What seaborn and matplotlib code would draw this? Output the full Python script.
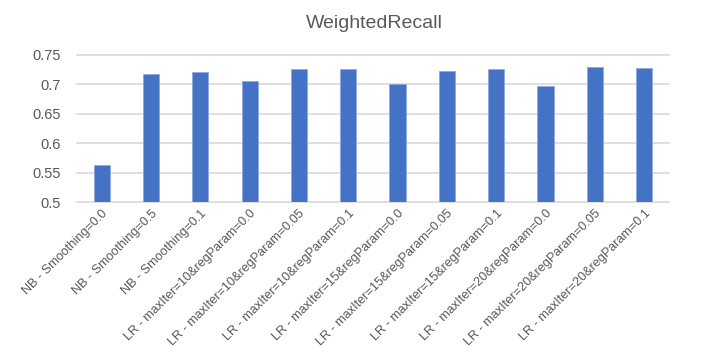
import matplotlib
matplotlib.use("Agg")
import matplotlib.pyplot as plt
import seaborn as sns
import pandas as pd
from matplotlib.ticker import FuncFormatter

# Model configurations and their weighted recall scores
models = [
    "NB - Smoothing=0.0",
    "NB - Smoothing=0.5",
    "NB - Smoothing=0.1",
    "LR - maxIter=10&regParam=0.0",
    "LR - maxIter=10&regParam=0.05",
    "LR - maxIter=10&regParam=0.1",
    "LR - maxIter=15&regParam=0.0",
    "LR - maxIter=15&regParam=0.05",
    "LR - maxIter=15&regParam=0.1",
    "LR - maxIter=20&regParam=0.0",
    "LR - maxIter=20&regParam=0.05",
    "LR - maxIter=20&regParam=0.1",
]
recall = [0.564, 0.717, 0.721, 0.705, 0.725, 0.725,
          0.701, 0.723, 0.725, 0.697, 0.729, 0.727]
y_ticks = [0.5, 0.55, 0.6, 0.65, 0.7, 0.75]

df = pd.DataFrame({"model": models, "recall": recall})

sns.set_theme(style="white")
plt.rcParams["font.family"] = ["Liberation Sans", "DejaVu Sans"]

text_color = "#595959"
grid_color = "#D9D9D9"
bar_color = "#4472C4"

fig = plt.figure(figsize=(7.07, 3.54), dpi=100)
ax = fig.add_axes([0.109, 0.4285, 0.837, 0.417])

sns.barplot(data=df, x="model", y="recall", color=bar_color, width=0.33,
            saturation=1, edgecolor="#8FAADC", linewidth=0.6, ax=ax, zorder=3)

ax.set_ylim(0.5, 0.75)
ax.set_xlim(-0.5, len(models) - 0.5)
ax.set_yticks(y_ticks)
ax.yaxis.set_major_formatter(FuncFormatter(lambda v, p: f"{v:g}"))
ax.grid(axis="y", color=grid_color, linewidth=1.2, zorder=0)
ax.grid(axis="x", visible=False)
for line in ax.get_ygridlines():
    line.set_clip_on(False)
for s in ax.spines.values():
    s.set_visible(False)

ax.set_xlabel("")
ax.set_ylabel("")
ax.tick_params(axis="y", length=0, pad=12, labelsize=10.5, labelcolor=text_color)
ax.tick_params(axis="x", length=0, pad=4, labelsize=9.1, labelcolor=text_color)
plt.setp(ax.get_xticklabels(), rotation=45, ha="right", rotation_mode="anchor")

fig.text(0.53, 0.935, "WeightedRecall", ha="center", va="center",
         fontsize=14, color=text_color)

fig.savefig("out.png", dpi=100, facecolor="white")
